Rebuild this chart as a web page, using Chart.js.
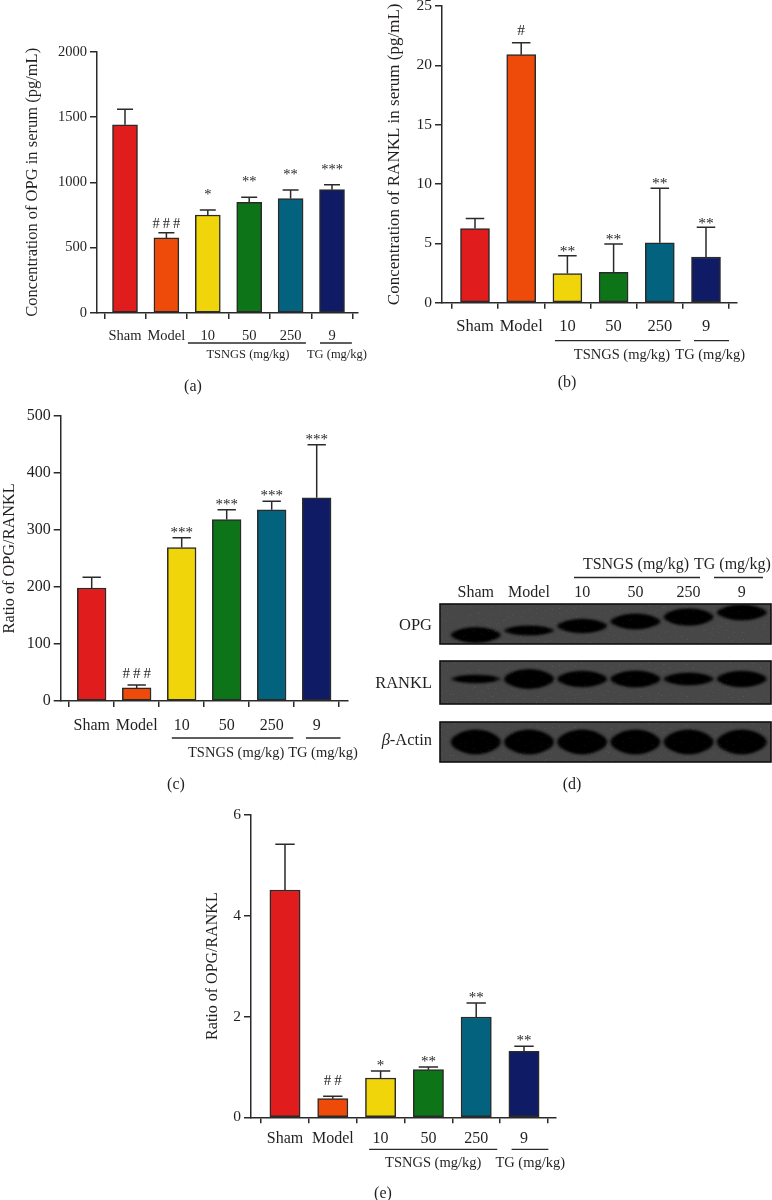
<!DOCTYPE html>
<html><head><meta charset="utf-8">
<script src="https://cdn.jsdelivr.net/npm/chart.js@4.4.1/dist/chart.umd.min.js"></script>
<style>
html,body{margin:0;padding:0;background:#fff;}
#page{position:relative;width:772px;height:1200px;overflow:hidden;background:#fff;}
canvas{position:absolute;left:0;top:0;}
.lbl{position:absolute;font-family:'Liberation Serif',serif;color:#231f20;font-size:16px;transform:translate(-50%,-50%);white-space:nowrap;line-height:1;}
</style></head>
<body><div id="page">
<canvas id="ca" width="772" height="1200"></canvas>
<canvas id="cb" width="772" height="1200"></canvas>
<canvas id="cc" width="772" height="1200"></canvas>
<canvas id="cd" width="772" height="1200"></canvas>
<canvas id="ce" width="772" height="1200"></canvas>
<div class="lbl" style="left:193px;top:386px">(a)</div>
<div class="lbl" style="left:567px;top:382px">(b)</div>
<div class="lbl" style="left:176px;top:784px">(c)</div>
<div class="lbl" style="left:572px;top:784px">(d)</div>
<div class="lbl" style="left:383px;top:1193px">(e)</div>
</div>
<script>
// ---------------- data ----------------
const groups = ['Sham', 'Model', '10', '50', '250', '9'];
const barColors = ['#E11C1C', '#EE4B0A', '#EFD509', '#0E7418', '#03637F', '#0F1C65'];
const groupTSNGS = 'TSNGS (mg/kg)';
const groupTG = 'TG (mg/kg)';

// (a) OPG in serum
const opgSerum = [1440, 575, 750, 848, 876, 944];
const opgSerumSD = [120, 40, 38, 38, 65, 38];
const opgSerumSig = ['', '###', '*', '**', '**', '***'];
const opgSerumTicks = [0, 500, 1000, 1500, 2000];

// (b) RANKL in serum
const rankSerum = [6.25, 20.9, 2.45, 2.55, 5.05, 3.85];
const rankSerumSD = [0.85, 1.0, 1.5, 2.4, 4.6, 2.5];
const rankSerumSig = ['', '#', '**', '**', '**', '**'];
const rankSerumTicks = [0, 5, 10, 15, 20, 25];

// (c) OPG/RANKL ratio in serum
const ratioSerum = [198, 23, 269, 318, 335, 356];
const ratioSerumSD = [19, 5, 17, 17, 15, 93];
const ratioSerumSig = ['', '###', '***', '***', '***', '***'];
const ratioSerumTicks = [0, 100, 200, 300, 400, 500];

// (d) western blot: relative band strength per lane
const blotRows = ['OPG', 'RANKL', 'Actin'];
const opgBand = [0.8, 0.45, 0.72, 0.8, 0.92, 0.8];
const rankBand = [0.32, 1.0, 0.78, 0.82, 0.58, 0.78];
const actinBand = [1.0, 1.0, 1.0, 1.0, 1.0, 1.0];

// (e) OPG/RANKL ratio (protein)
const ratioProt = [4.51, 0.37, 0.78, 0.945, 1.99, 1.31];
const ratioProtSD = [0.91, 0.05, 0.14, 0.055, 0.28, 0.1];
const ratioProtSig = ['', '##', '*', '**', '**', '**'];
const ratioProtTicks = [0, 2, 4, 6];

// ---------------- drawing ----------------
const SERIF = "'Liberation Serif', 'Times New Roman', serif";
const INK = '#231f20';
const AXIS = '#2a2a2a';

function drawSpaced(ctx, text, cx, y, spacing) {
  const chars = [...text];
  const ws = chars.map(c => ctx.measureText(c).width);
  const total = ws.reduce((a, b) => a + b, 0) + spacing * (chars.length - 1);
  let x = cx - total / 2;
  ctx.textAlign = 'left';
  chars.forEach((c, i) => { ctx.fillText(c, x, y); x += ws[i] + spacing; });
}

function barPanel(id, o) {
  const xmin = (o.area.l - o.c0) / o.step;
  const xmax = (o.area.r - o.c0) / o.step;
  const titleHalf = o.titleFs * o.titleLh / 2;
  const padL = o.titleX - titleHalf;
  const yW = o.area.l - padL;
  const xH = 40;
  const extras = {
    id: 'extras_' + id,
    afterDatasetsDraw(chart) {
      const ctx = chart.ctx;
      const xs = chart.scales.x, ys = chart.scales.y;
      ctx.save();
      // error bars (upper only)
      ctx.strokeStyle = AXIS;
      ctx.lineWidth = 1.5;
      o.values.forEach((v, i) => {
        const x = xs.getPixelForValue(i);
        const y0 = ys.getPixelForValue(v);
        const y1 = ys.getPixelForValue(v + o.sd[i]);
        const cap = o.barW * 0.32;
        ctx.beginPath();
        ctx.moveTo(x, y0); ctx.lineTo(x, y1);
        ctx.moveTo(x - cap, y1); ctx.lineTo(x + cap, y1);
        ctx.stroke();
      });
      // significance marks
      ctx.fillStyle = INK;
      ctx.font = o.sigFs + 'px ' + SERIF;
      ctx.textBaseline = 'alphabetic';
      o.sig.forEach((s, i) => {
        if (!s) return;
        const x = xs.getPixelForValue(i);
        const yTop = ys.getPixelForValue(o.values[i] + o.sd[i]);
        const isHash = s[0] === '#';
        const center = yTop - (isHash ? o.hashOff : o.starOff);
        const base = center + (isHash ? 0.34 : 0.5) * o.sigFs;
        drawSpaced(ctx, s, x, base, isHash ? 3 : 0);
      });
      // group underlines + labels
      const yb = chart.chartArea.bottom;
      ctx.strokeStyle = AXIS;
      ctx.lineWidth = 1.3;
      ctx.beginPath();
      ctx.moveTo(xs.getPixelForValue(o.tsngs[0]), yb + o.lineOff);
      ctx.lineTo(xs.getPixelForValue(o.tsngs[1]), yb + o.lineOff);
      ctx.moveTo(xs.getPixelForValue(o.tg[0]), yb + o.lineOff);
      ctx.lineTo(xs.getPixelForValue(o.tg[1]), yb + o.lineOff);
      ctx.stroke();
      ctx.font = o.groupFs + 'px ' + SERIF;
      ctx.textAlign = 'center';
      ctx.textBaseline = 'middle';
      ctx.fillText(groupTSNGS, xs.getPixelForValue(o.tsngsC), yb + o.textOff);
      ctx.fillText(groupTG, xs.getPixelForValue(o.tgC), yb + o.textOff);
      ctx.restore();
    }
  };
  return new Chart(document.getElementById(id), {
    type: 'bar',
    data: {
      datasets: [{
        data: o.values.map((v, i) => ({ x: i, y: v })),
        backgroundColor: barColors,
        borderColor: AXIS,
        borderWidth: 1.5,
        borderSkipped: false,
        barThickness: o.barW
      }]
    },
    options: {
      responsive: false,
      animation: false,
      events: [],
      layout: { padding: { left: padL, top: o.area.t, right: 772 - o.area.r, bottom: 1200 - o.area.b - xH } },
      plugins: { legend: { display: false }, tooltip: { enabled: false } },
      scales: {
        x: {
          type: 'linear', min: xmin, max: xmax, offset: false,
          afterBuildTicks: s => { s.ticks = groups.map((g, i) => ({ value: i })); },
          afterFit: s => { s.height = xH; s.paddingLeft = 0; s.paddingRight = 0; },
          ticks: { callback: v => groups[v], autoSkip: false, maxRotation: 0, minRotation: 0, padding: o.xPad, color: INK, font: { family: SERIF, size: o.xFs } },
          grid: { drawOnChartArea: false, drawTicks: true, tickLength: 6, color: AXIS, lineWidth: 1.5 },
          border: { display: true, color: AXIS, width: 1.5 }
        },
        y: {
          type: 'linear', min: 0, max: o.ticks[o.ticks.length - 1],
          afterBuildTicks: s => { s.ticks = o.ticks.map(v => ({ value: v })); },
          afterFit: s => { s.width = yW; s.paddingTop = 0; s.paddingBottom = 0; },
          title: { display: true, text: o.title, color: INK, padding: 0, font: { family: SERIF, size: o.titleFs, lineHeight: o.titleLh } },
          ticks: { callback: v => String(v), padding: 3, color: INK, font: { family: SERIF, size: o.yFs } },
          grid: { drawOnChartArea: false, drawTicks: true, tickLength: 7, color: AXIS, lineWidth: 1.5 },
          border: { display: true, color: AXIS, width: 1.5 }
        }
      }
    },
    plugins: [extras]
  });
}

barPanel('ca', {
  values: opgSerum, sd: opgSerumSD, sig: opgSerumSig, ticks: opgSerumTicks,
  title: 'Concentration of OPG in serum (pg/mL)', titleFs: 16.5, titleLh: 1.2, titleX: 33,
  area: { l: 97, r: 358, t: 51.7, b: 313 }, c0: 125, step: 41.4, barW: 25,
  yFs: 14.5, xFs: 14.5, xPad: 8, sigFs: 14.5, starOff: 18, hashOff: 10,
  groupFs: 12.5, lineOff: 30, textOff: 42,
  tsngs: [1.52, 4.37], tg: [4.71, 5.48], tsngsC: 2.97, tgC: 5.12
});

barPanel('cb', {
  values: rankSerum, sd: rankSerumSD, sig: rankSerumSig, ticks: rankSerumTicks,
  title: 'Concentration of RANKL in serum (pg/mL)', titleFs: 17, titleLh: 1.2, titleX: 395,
  area: { l: 442, r: 737, t: 6, b: 302.7 }, c0: 475, step: 46.2, barW: 29,
  yFs: 15.5, xFs: 16.5, xPad: 8, sigFs: 15.5, starOff: 7.5, hashOff: 13,
  groupFs: 14.5, lineOff: 38, textOff: 52,
  tsngs: [1.73, 4.45], tg: [4.74, 5.5], tsngsC: 3.18, tgC: 5.09
});

barPanel('cc', {
  values: ratioSerum, sd: ratioSerumSD, sig: ratioSerumSig, ticks: ratioSerumTicks,
  title: 'Ratio of OPG/RANKL', titleFs: 16.3, titleLh: 1.0, titleX: 9.5,
  area: { l: 60.7, r: 347.7, t: 415.7, b: 701 }, c0: 91.7, step: 45, barW: 28.7,
  yFs: 16, xFs: 16, xPad: 9, sigFs: 15, starOff: 8.5, hashOff: 12,
  groupFs: 14.5, lineOff: 37, textOff: 52,
  tsngs: [1.78, 4.48], tg: [4.76, 5.53], tsngsC: 3.21, tgC: 5.14
});

barPanel('ce', {
  values: ratioProt, sd: ratioProtSD, sig: ratioProtSig, ticks: ratioProtTicks,
  title: 'Ratio of OPG/RANKL', titleFs: 16, titleLh: 1.2, titleX: 213,
  area: { l: 251, r: 555.7, t: 814.9, b: 1117.3 }, c0: 285, step: 47.8, barW: 30.3,
  yFs: 15.5, xFs: 16, xPad: 6, sigFs: 15, starOff: 8.5, hashOff: 16,
  groupFs: 14.5, lineOff: 32, textOff: 45.5,
  tsngs: [1.76, 4.44], tg: [4.74, 5.51], tsngsC: 3.1, tgC: 5.13
});

// ---------------- (d) western blot ----------------
(function () {
  const laneC0 = 475.8, laneStep = 53.2;
  const boxL = 440, boxR = 771;
  const rowC0 = 624, rowStep = 59;
  const boxTop = 604, boxBot = 762;
  const bands = [opgBand, rankBand, actinBand];
  const rowBoxes = [[604, 644], [661, 704], [722, 762]];
  const maxH = [16, 17, 22];
  function grain(ctx, l, t, w, h) {
    const img = ctx.getImageData(l, t, w, h);
    const d = img.data;
    for (let j = 0; j < h; j++) {
      for (let i = 0; i < w; i++) {
        const k = (j * w + i) * 4;
        let hsh = ((i * 374761393) ^ (j * 668265263)) >>> 0;
        hsh = ((hsh ^ (hsh >>> 13)) * 1274126177) >>> 0;
        const n = (hsh & 31) - 16;
        d[k] = Math.max(0, Math.min(255, d[k] + n * 0.6));
        d[k + 1] = Math.max(0, Math.min(255, d[k + 1] + n * 0.6));
        d[k + 2] = Math.max(0, Math.min(255, d[k + 2] + n * 0.6));
      }
    }
    ctx.putImageData(img, l, t);
  }
  const blot = {
    id: 'blot',
    afterDraw(chart) {
      const ctx = chart.ctx;
      const xs = chart.scales.x, ys = chart.scales.y;
      ctx.save();
      blotRows.forEach((r, ri) => {
        const [t, b] = rowBoxes[ri];
        const l = xs.getPixelForValue(xs.min), rr = xs.getPixelForValue(xs.max);
        ctx.fillStyle = '#515151';
        ctx.fillRect(l, t, rr - l, b - t);
        // bands
        ctx.save();
        ctx.beginPath(); ctx.rect(l, t, rr - l, b - t); ctx.clip();
        ctx.filter = 'blur(1.6px)';
        ctx.fillStyle = '#0a0a0a';
        bands[ri].forEach((s, li) => {
          const cx = xs.getPixelForValue(li);
          let cy = ys.getPixelForValue(ri);
          if (ri === 0) cy += 11 - li * 4.5;
          if (ri === 1) cy -= 4;
          const h = Math.max(4, s * maxH[ri]);
          const w = 50;
          ctx.beginPath();
          ctx.ellipse(cx, cy, w / 2, h / 2, 0, 0, Math.PI * 2);
          ctx.fill();
          ctx.beginPath();
          ctx.ellipse(cx, cy, w / 2 - 5, h / 2 + 1, 0, 0, Math.PI * 2);
          ctx.fill();
        });
        ctx.restore();
        grain(ctx, Math.round(l), t, Math.round(rr - l), b - t);
        ctx.strokeStyle = '#111';
        ctx.lineWidth = 1.6;
        ctx.strokeRect(l, t, rr - l, b - t);
      });
      // row labels
      ctx.fillStyle = INK;
      ctx.font = '16.5px ' + SERIF;
      ctx.textBaseline = 'middle';
      ctx.textAlign = 'right';
      ctx.fillText('OPG', 432, 626);
      ctx.fillText('RANKL', 432, 684);
      const actinW = ctx.measureText('-Actin').width;
      ctx.fillText('-Actin', 432, 741);
      ctx.font = 'italic 16.5px ' + SERIF;
      ctx.fillText('β', 432 - actinW, 741);
      // lane labels
      ctx.font = '16px ' + SERIF;
      ctx.textAlign = 'center';
      groups.forEach((g, i) => ctx.fillText(g, xs.getPixelForValue(i), 593));
      // group headers
      ctx.font = '16px ' + SERIF;
      ctx.fillText(groupTSNGS, 636, 565);
      ctx.textAlign = 'left';
      ctx.fillText(groupTG, 694, 565, 77);
      ctx.strokeStyle = AXIS;
      ctx.lineWidth = 1.3;
      ctx.beginPath();
      ctx.moveTo(574, 577.5); ctx.lineTo(700, 577.5);
      ctx.moveTo(714, 577.5); ctx.lineTo(763, 577.5);
      ctx.stroke();
      ctx.restore();
    }
  };
  new Chart(document.getElementById('cd'), {
    type: 'scatter',
    data: { datasets: [{ data: [] }] },
    options: {
      responsive: false, animation: false, events: [],
      layout: { padding: { left: boxL, right: 772 - boxR, top: boxTop, bottom: 1200 - boxBot } },
      plugins: { legend: { display: false }, tooltip: { enabled: false } },
      scales: {
        x: { type: 'linear', display: false, min: (boxL - laneC0) / laneStep, max: (boxR - laneC0) / laneStep },
        y: { type: 'linear', display: false, reverse: true, min: (rowC0 - boxTop) / -rowStep, max: 2 + (boxBot - (rowC0 + 2 * rowStep)) / rowStep }
      }
    },
    plugins: [blot]
  });
})();
</script>
</body></html>
